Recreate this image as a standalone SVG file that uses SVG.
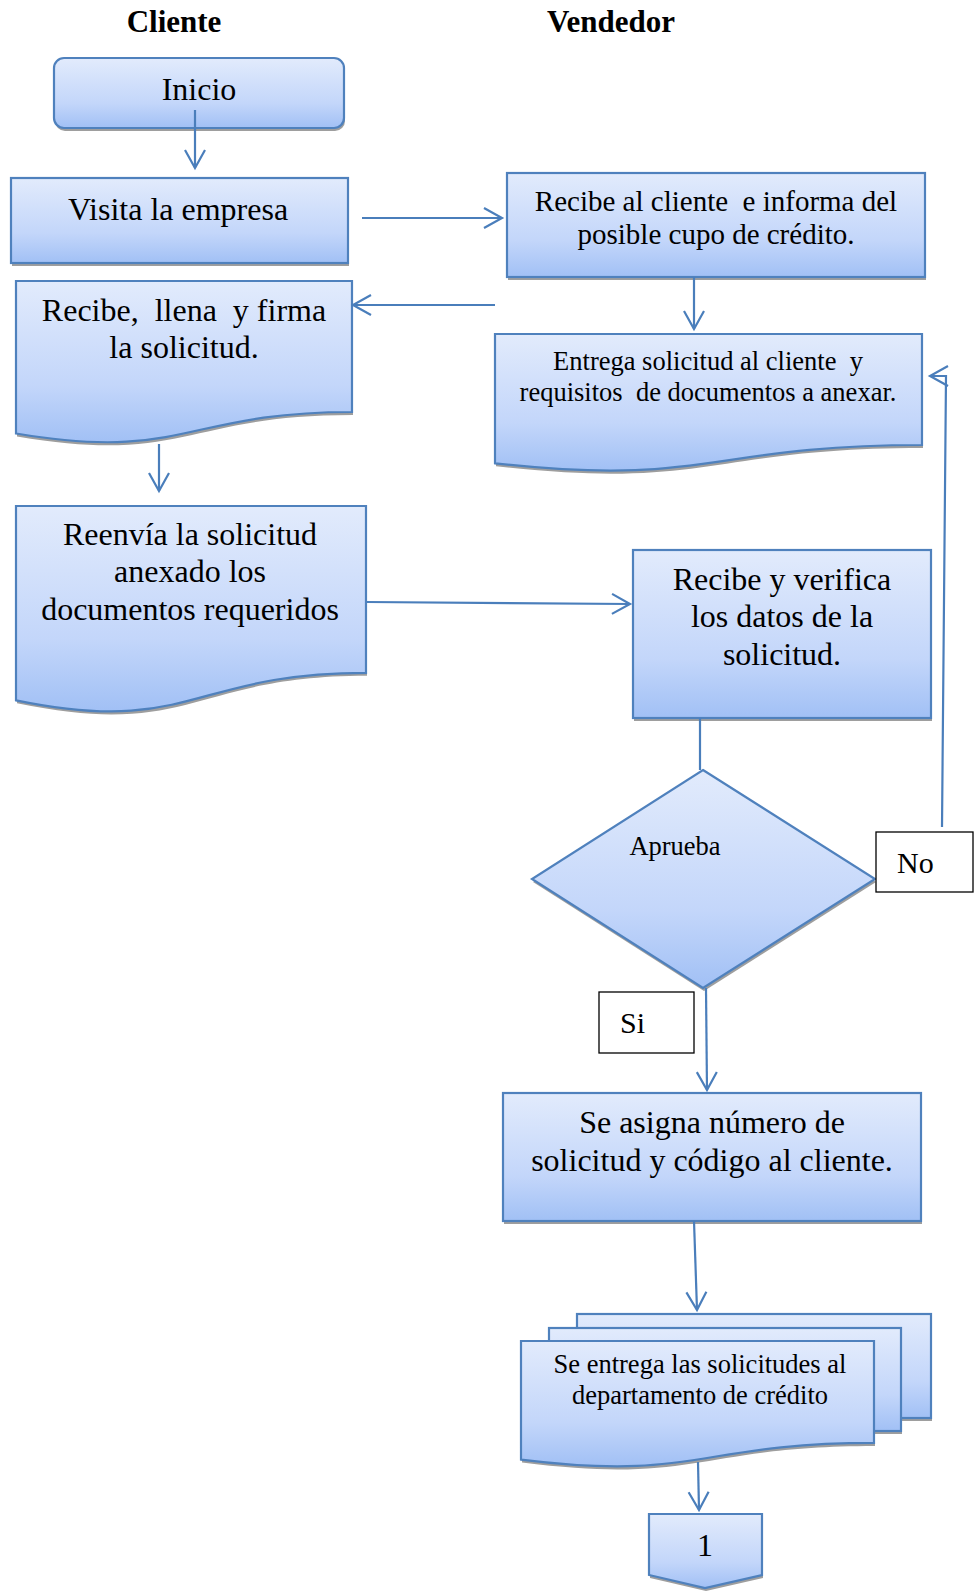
<svg xmlns="http://www.w3.org/2000/svg" width="974" height="1591" viewBox="0 0 974 1591">
  <defs>
    <linearGradient id="fillBlue" x1="0" y1="0" x2="0" y2="1">
      <stop offset="0" stop-color="#e2ebfc"/>
      <stop offset="0.65" stop-color="#c3d6fa"/>
      <stop offset="1" stop-color="#a1c0f5"/>
    </linearGradient>
    <marker id="arrow" markerUnits="userSpaceOnUse" viewBox="-20 -12 24 24" markerWidth="24" markerHeight="24" refX="0" refY="0" orient="auto">
      <path d="M-18,-10 L0,0 L-18,10" fill="none" stroke="#4a7ebb" stroke-width="2.2"/>
    </marker>
    <style>
      .shape { fill: url(#fillBlue); stroke: #4f81bd; stroke-width: 2.2; }
      .shadow { fill: #9e9e9e; stroke: none; }
      .plain { fill: #ffffff; stroke: #000000; stroke-width: 1.3; }
      .t { font-family: "Liberation Serif", "Times New Roman", serif; fill: #000000; text-anchor: middle; white-space: pre; }
      .big { font-size: 32px; }
      .mid { font-size: 29px; }
      .small { font-size: 26.5px; }
      .title { font-size: 31px; font-weight: bold; }
      .conn { fill: none; stroke: #4a7ebb; stroke-width: 2.2; }
    </style>
  </defs>

  <rect width="974" height="1591" fill="#ffffff"/>

  <!-- lane headings -->
  <g id="headings">
    <text class="t title" x="174" y="32">Cliente</text>
    <text class="t title" x="611" y="32">Vendedor</text>
  </g>

  <!-- start -->
  <g id="inicio">
    <rect class="shadow" x="55" y="61" width="290" height="70" rx="10"/>
    <rect class="shape" x="54" y="58" width="290" height="70" rx="10"/>
    <text class="t big" x="199" y="100">Inicio</text>
  </g>

  <g id="visita">
    <rect class="shadow" x="12" y="181" width="337" height="85"/>
    <rect class="shape" x="11" y="178" width="337" height="85"/>
    <text class="t big" x="178" y="220">Visita la empresa</text>
  </g>

  <g id="recibe-cliente">
    <rect class="shadow" x="508" y="176" width="418" height="104"/>
    <rect class="shape" x="507" y="173" width="418" height="104"/>
    <text class="t mid" x="716" y="211" xml:space="preserve">Recibe al cliente  e informa del</text>
    <text class="t mid" x="716" y="244">posible cupo de crédito.</text>
  </g>

  <g id="recibe-llena">
    <path class="shadow" transform="translate(1,3)" d="M16,281 H352 V412 C184,412 184,462 16,433.5 Z"/>
    <path class="shape" d="M16,281 H352 V412 C184,412 184,462 16,433.5 Z"/>
    <text class="t big" x="184" y="321" xml:space="preserve">Recibe,  llena  y firma</text>
    <text class="t big" x="184" y="358">la solicitud.</text>
  </g>

  <g id="entrega">
    <path class="shadow" transform="translate(1,3)" d="M495,334 H922 V445 C708.5,445 708.5,487.3 495,463.3 Z"/>
    <path class="shape" d="M495,334 H922 V445 C708.5,445 708.5,487.3 495,463.3 Z"/>
    <text class="t small" x="708" y="370" xml:space="preserve">Entrega solicitud al cliente  y</text>
    <text class="t small" x="708" y="401" xml:space="preserve">requisitos  de documentos a anexar.</text>
  </g>

  <g id="reenvia">
    <path class="shadow" transform="translate(1,3)" d="M16,506 H366 V672.8 C191,672.8 191,736.5 16,700.3 Z"/>
    <path class="shape" d="M16,506 H366 V672.8 C191,672.8 191,736.5 16,700.3 Z"/>
    <text class="t big" x="190" y="545">Reenvía la solicitud</text>
    <text class="t big" x="190" y="582">anexado los</text>
    <text class="t big" x="190" y="620">documentos requeridos</text>
  </g>

  <g id="verifica">
    <rect class="shadow" x="634" y="553" width="298" height="168"/>
    <rect class="shape" x="633" y="550" width="298" height="168"/>
    <text class="t big" x="782" y="590">Recibe y verifica</text>
    <text class="t big" x="782" y="627">los datos de la</text>
    <text class="t big" x="782" y="665">solicitud.</text>
  </g>

  <g id="aprueba">
    <path class="shadow" transform="translate(1,3)" d="M703,770 L875,879 L703,988 L532,879 Z"/>
    <path class="shape" d="M703,770 L875,879 L703,988 L532,879 Z"/>
    <text class="t small" x="675" y="855">Aprueba</text>
  </g>

  <g id="label-no">
    <rect class="plain" x="876" y="832" width="97" height="60"/>
    <text class="t" style="font-size:30px;text-anchor:start" x="897" y="873">No</text>
  </g>

  <g id="label-si">
    <rect class="plain" x="599" y="992" width="95" height="61"/>
    <text class="t" style="font-size:30px;text-anchor:start" x="620" y="1033">Si</text>
  </g>

  <g id="asigna">
    <rect class="shadow" x="504" y="1096" width="418" height="128"/>
    <rect class="shape" x="503" y="1093" width="418" height="128"/>
    <text class="t big" x="712" y="1133">Se asigna número de</text>
    <text class="t big" x="712" y="1171">solicitud y código al cliente.</text>
  </g>

  <g id="entrega-credito">
    <rect class="shadow" x="578" y="1317" width="354" height="104"/>
    <rect class="shape" x="577" y="1314" width="354" height="104"/>
    <rect class="shadow" x="550" y="1331" width="352" height="103"/>
    <rect class="shape" x="549" y="1328" width="352" height="103"/>
    <path class="shadow" transform="translate(1,3)" d="M521,1341 H874 V1442.9 C697.5,1442.9 697.5,1481.7 521,1459.6 Z"/>
    <path class="shape" d="M521,1341 H874 V1442.9 C697.5,1442.9 697.5,1481.7 521,1459.6 Z"/>
    <text class="t small" x="700" y="1373">Se entrega las solicitudes al</text>
    <text class="t small" x="700" y="1404">departamento de crédito</text>
  </g>

  <g id="conector-1">
    <path class="shadow" transform="translate(1,3)" d="M649,1514 H762 V1575 L705,1588 L649,1575 Z"/>
    <path class="shape" d="M649,1514 H762 V1575 L705,1588 L649,1575 Z"/>
    <text class="t big" x="705" y="1556">1</text>
  </g>

  <!-- connectors -->
  <g id="connectors">
    <path class="conn" marker-end="url(#arrow)" d="M195,110 L195,168"/>
    <path class="conn" marker-end="url(#arrow)" d="M362,218 L502,218"/>
    <path class="conn" marker-end="url(#arrow)" d="M694,277 L694,329"/>
    <path class="conn" marker-end="url(#arrow)" d="M495,305 L353,305"/>
    <path class="conn" marker-end="url(#arrow)" d="M159,444 L159,491"/>
    <path class="conn" marker-end="url(#arrow)" d="M367,602 L630,604"/>
    <path class="conn" d="M700,718 L700,770"/>
    <path class="conn" marker-end="url(#arrow)" d="M706,988 L707,1090"/>
    <path class="conn" marker-end="url(#arrow)" d="M942,827 L946,376 L930,376"/>
    <path class="conn" marker-end="url(#arrow)" d="M694,1221 L697,1310"/>
    <path class="conn" marker-end="url(#arrow)" d="M698,1462 L699,1510"/>
  </g>
</svg>
